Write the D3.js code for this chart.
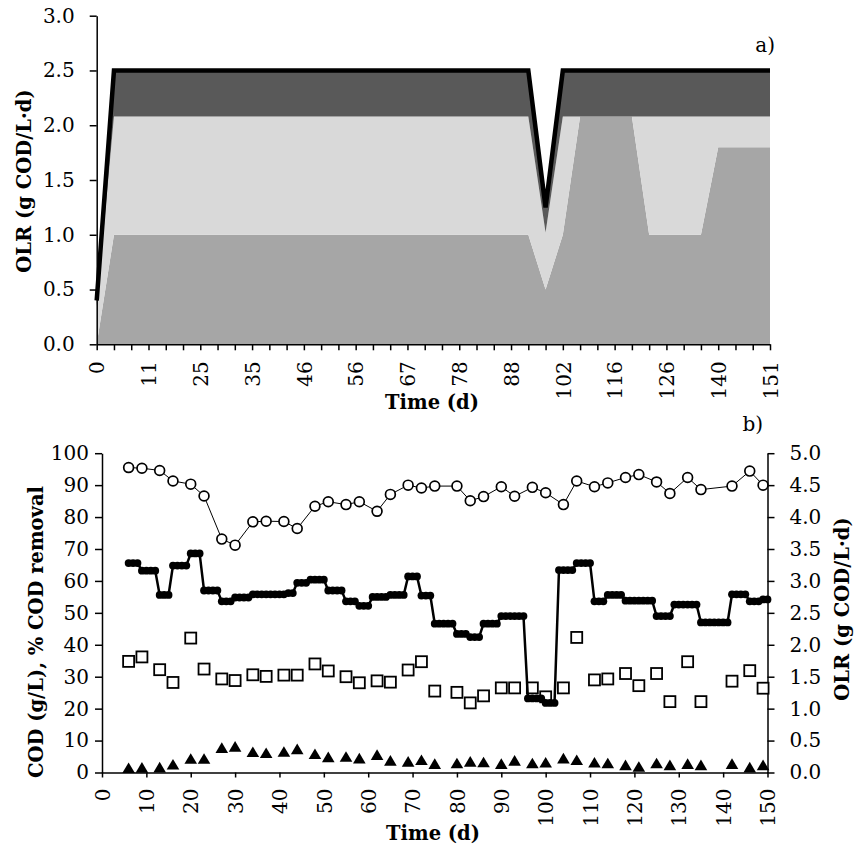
<!DOCTYPE html>
<html>
<head>
<meta charset="utf-8">
<script src="https://cdn.jsdelivr.net/npm/d3@7"></script>
<style>
body { margin: 0; background: #fff; }
svg { display: block; font-family: "DejaVu Serif", serif; }
.axis path, .axis line { stroke: #000; stroke-width: 1.5; }
.title { font-weight: bold; font-size: 19.5px; }
</style>
</head>
<body>
<div id="chart"></div>
<script>
// ---- panel a) : stacked OLR by category (40 sampling points) ----
let aTickLabels = ["0", "11", "25", "35", "46", "56", "67", "78", "88", "102", "116", "126", "140", "151"];
// bottom layer (mid grey)
let aLayer1 = [0,
	1.0, 1.0, 1.0, 1.0, 1.0, 1.0, 1.0, 1.0, 1.0, 1.0, 1.0, 1.0, 1.0, 1.0, 1.0, 1.0, 1.0, 1.0, 1.0, 1.0, 1.0, 1.0, 1.0, 1.0, 1.0,
	0.5, 1.0, 2.08, 2.08, 2.08, 2.08, 1.0, 1.0, 1.0, 1.0, 1.8, 1.8, 1.8, 1.8];
// middle layer (light grey)
let aLayer2 = [0.35,
	1.08, 1.08, 1.08, 1.08, 1.08, 1.08, 1.08, 1.08, 1.08, 1.08, 1.08, 1.08, 1.08, 1.08, 1.08, 1.08, 1.08, 1.08, 1.08, 1.08, 1.08, 1.08, 1.08, 1.08, 1.08,
	0.52, 1.08, 0, 0, 0, 0, 1.08, 1.08, 1.08, 1.08, 0.28, 0.28, 0.28, 0.28];
// top layer (dark grey)
let aLayer3 = [0.05,
	0.42, 0.42, 0.42, 0.42, 0.42, 0.42, 0.42, 0.42, 0.42, 0.42, 0.42, 0.42, 0.42, 0.42, 0.42, 0.42, 0.42, 0.42, 0.42, 0.42, 0.42, 0.42, 0.42, 0.42, 0.42,
	0.23, 0.42, 0.42, 0.42, 0.42, 0.42, 0.42, 0.42, 0.42, 0.42, 0.42, 0.42, 0.42, 0.42];
// total OLR (black line)
let aTotal = [0.4,
	2.5, 2.5, 2.5, 2.5, 2.5, 2.5, 2.5, 2.5, 2.5, 2.5, 2.5, 2.5, 2.5, 2.5, 2.5, 2.5, 2.5, 2.5, 2.5, 2.5, 2.5, 2.5, 2.5, 2.5, 2.5,
	1.25, 2.5, 2.5, 2.5, 2.5, 2.5, 2.5, 2.5, 2.5, 2.5, 2.5, 2.5, 2.5, 2.5];
let aColors = ["#a6a6a6", "#d9d9d9", "#595959"];

// ---- panel b) : sampling days ----
let bDays = [6, 9, 13, 16, 20, 23, 27, 30, 34, 37, 41, 44, 48, 51, 55, 58, 62, 65, 69, 72, 75,
	80, 83, 86, 90, 93, 97, 100, 104, 107, 111, 114, 118, 121, 125, 128, 132, 135, 142, 146, 149];
// % COD removal (open circles)
let bRemoval = [95.5, 95.3, 94.6, 91.3, 90.3, 86.6, 73.1, 71.2, 78.5, 78.7, 78.6, 76.4, 83.4, 84.8, 83.9, 84.8, 81.8, 87.1, 90.0, 89.1, 89.7,
	89.7, 85.1, 86.4, 89.5, 86.5, 89.3, 87.6, 83.9, 91.3, 89.5, 90.7, 92.4, 93.3, 91.0, 87.4, 92.4, 88.6, 89.7, 94.4, 90.0];
// COD g/L (open squares)
let bCodIn = [34.8, 36.2, 32.2, 28.2, 42.1, 32.4, 29.3, 28.8, 30.6, 30.1, 30.5, 30.5, 34.0, 31.8, 30.0, 28.1, 28.7, 28.3, 32.1, 34.7, 25.5,
	25.1, 21.8, 24.0, 26.5, 26.5, 26.5, 23.7, 26.5, 42.3, 29.0, 29.3, 31.0, 27.2, 31.0, 22.2, 34.7, 22.2, 28.6, 31.9, 26.4];
// COD g/L (filled triangles)
let bCodOut = [1.4, 1.5, 1.6, 2.5, 4.3, 4.3, 7.7, 8.1, 6.4, 6.1, 6.5, 7.3, 5.8, 4.8, 4.9, 4.4, 5.5, 3.7, 3.4, 3.9, 2.7,
	2.9, 3.4, 3.2, 2.7, 3.7, 2.9, 3.1, 4.4, 3.9, 3.1, 2.9, 2.3, 1.8, 2.9, 2.3, 2.7, 2.3, 2.7, 1.6, 2.3];
// daily OLR, g COD/L·d (filled circles, right axis), day 6 to day 150
let olrFirstDay = 6;
let olrDaily = [
	3.28, 3.28, 3.28,                   // 6-8
	3.16, 3.16, 3.16, 3.16,             // 9-12
	2.78, 2.78, 2.78,                   // 13-15
	3.24, 3.24, 3.24, 3.24,             // 16-19
	3.43, 3.43, 3.43,                   // 20-22
	2.85, 2.85, 2.85, 2.85,             // 23-26
	2.68, 2.68, 2.68,                   // 27-29
	2.74, 2.74, 2.74, 2.74,             // 30-33
	2.79, 2.79, 2.79, 2.79, 2.79, 2.79, 2.79, 2.79, // 34-41
	2.81, 2.81,                         // 42-43
	2.97, 2.97, 2.97,                   // 44-46
	3.02, 3.02, 3.02, 3.02,             // 47-50
	2.85, 2.85, 2.85, 2.85,             // 51-54
	2.68, 2.68, 2.68,                   // 55-57
	2.61, 2.61, 2.61,                   // 58-60
	2.75, 2.75, 2.75, 2.75,             // 61-64
	2.78, 2.78, 2.78, 2.78,             // 65-68
	3.07, 3.07, 3.07,                   // 69-71
	2.77, 2.77, 2.77,                   // 72-74
	2.33, 2.33, 2.33, 2.33, 2.33,       // 75-79
	2.17, 2.17, 2.17,                   // 80-82
	2.12, 2.12, 2.12,                   // 83-85
	2.33, 2.33, 2.33, 2.33,             // 86-89
	2.45, 2.45, 2.45, 2.45, 2.45, 2.45, // 90-95
	1.16, 1.16, 1.16, 1.16,             // 96-99
	1.09, 1.09, 1.09,                   // 100-102
	3.17, 3.17, 3.17, 3.17,             // 103-106
	3.28, 3.28, 3.28, 3.28,             // 107-110
	2.68, 2.68, 2.68,                   // 111-113
	2.78, 2.78, 2.78, 2.78,             // 114-117
	2.69, 2.69, 2.69, 2.69, 2.69, 2.69, 2.69, // 118-124
	2.45, 2.45, 2.45, 2.45,             // 125-128
	2.63, 2.63, 2.63, 2.63, 2.63, 2.63, // 129-134
	2.35, 2.35, 2.35, 2.35, 2.35, 2.35, 2.35, // 135-141
	2.79, 2.79, 2.79, 2.79,             // 142-145
	2.68, 2.68, 2.68,                   // 146-148
	2.71, 2.71                          // 149-150
];

let svg = d3.select("#chart").append("svg")
	.attr("width", 857)
	.attr("height", 849);

// make axis labels the same serif as the rest
function styleTicks(g){
	g.selectAll("text")
		.attr("font-family", "DejaVu Serif")
		.style("font-size", "20px")
		.style("fill", "#000");
}

// ================= panel a =================
let aIdx = d3.range(aTotal.length);
let xa = d3.scalePoint().domain(aIdx).range([96.7, 770]);
let ya = d3.scaleLinear().domain([0, 3]).range([344.3, 15.7]);

let stackRows = aIdx.map(function(i){ return {i: i, l1: aLayer1[i], l2: aLayer2[i], l3: aLayer3[i]}; });
let stacked = d3.stack().keys(["l1", "l2", "l3"])(stackRows);

let areaA = d3.area()
	.x(function(d){ return xa(d.data.i); })
	.y0(function(d){ return ya(d[0]); })
	.y1(function(d){ return ya(d[1]); });

let gA = svg.append("g");
gA.selectAll("path.layer")
	.data(stacked)
	.enter().append("path")
	.attr("class", "layer")
	.attr("d", areaA)
	.style("fill", function(d, i){ return aColors[i]; });

gA.append("path")
	.datum(aIdx)
	.attr("d", d3.line().x(function(i){ return xa(i); }).y(function(i){ return ya(aTotal[i]); }))
	.style("fill", "none")
	.style("stroke", "#000")
	.style("stroke-width", 4.5)
	.style("stroke-linejoin", "miter");

// axes a
let axA = gA.append("g").attr("class", "axis")
	.attr("transform", "translate(0," + ya(0) + ")")
	.call(d3.axisBottom(xa).tickSize(6).tickSizeOuter(0)
		.tickFormat(function(i){ return i % 3 == 0 ? aTickLabels[i / 3] : ""; }));
axA.call(styleTicks);
axA.selectAll("text")
	.attr("transform", "rotate(-90)")
	.attr("x", -17)
	.attr("y", 0)
	.attr("dy", "0.36em")
	.style("text-anchor", "end");

gA.append("g").attr("class", "axis")
	.attr("transform", "translate(" + xa(0) + ",0)")
	.call(d3.axisLeft(ya).tickValues(d3.range(0, 3.01, 0.5)).tickSize(7).tickPadding(15).tickSizeOuter(0)
		.tickFormat(d3.format(".1f")))
	.call(styleTicks);

gA.append("text").attr("class", "title")
	.attr("transform", "translate(31,181) rotate(-90)")
	.attr("text-anchor", "middle")
	.text("OLR (g COD/L·d)");
gA.append("text").attr("class", "title")
	.attr("x", 432).attr("y", 409)
	.attr("text-anchor", "middle")
	.text("Time (d)");
gA.append("text")
	.attr("x", 775).attr("y", 52)
	.attr("text-anchor", "end")
	.style("font-size", "20px")
	.text("a)");

// ================= panel b =================
let xb = d3.scaleLinear().domain([0, 150]).range([102, 767.5]);
let yb = d3.scaleLinear().domain([0, 100]).range([772.5, 453.2]);
let yr = d3.scaleLinear().domain([0, 5]).range([772.5, 453.2]);

let gB = svg.append("g");

let axB = gB.append("g").attr("class", "axis")
	.attr("transform", "translate(0," + yb(0) + ")")
	.call(d3.axisBottom(xb).tickValues(d3.range(0, 151, 10)).tickSize(5).tickSizeOuter(0))
	.call(styleTicks);
axB.selectAll("text")
	.attr("transform", "rotate(-90)")
	.attr("x", -16)
	.attr("y", 0)
	.attr("dy", "0.36em")
	.style("text-anchor", "end");

gB.append("g").attr("class", "axis")
	.attr("transform", "translate(" + xb(0) + ",0)")
	.call(d3.axisLeft(yb).tickValues(d3.range(0, 101, 10)).tickSize(7).tickPadding(6).tickSizeOuter(0))
	.call(styleTicks);

gB.append("g").attr("class", "axis")
	.attr("transform", "translate(" + xb(150) + ",0)")
	.call(d3.axisRight(yr).tickValues(d3.range(0, 5.01, 0.5)).tickSize(7).tickPadding(15).tickSizeOuter(0)
		.tickFormat(d3.format(".1f")))
	.call(styleTicks);

let bIdx = d3.range(bDays.length);

// squares
gB.selectAll("rect.cod")
	.data(bIdx)
	.enter().append("rect")
	.attr("class", "cod")
	.attr("x", function(i){ return xb(bDays[i]) - 5.5; })
	.attr("y", function(i){ return yb(bCodIn[i]) - 5.5; })
	.attr("width", 11).attr("height", 11)
	.style("fill", "#fff")
	.style("stroke", "#000")
	.style("stroke-width", 1.8);

// triangles
gB.selectAll("path.eff")
	.data(bIdx)
	.enter().append("path")
	.attr("class", "eff")
	.attr("transform", function(i){ return "translate(" + xb(bDays[i]) + "," + yb(bCodOut[i]) + ")"; })
	.attr("d", "M0,-5.6L6.3,5L-6.3,5Z")
	.style("fill", "#000");

// removal line + open circles
gB.append("path")
	.datum(bIdx)
	.attr("d", d3.line().x(function(i){ return xb(bDays[i]); }).y(function(i){ return yb(bRemoval[i]); }))
	.style("fill", "none").style("stroke", "#000").style("stroke-width", 1);
gB.selectAll("circle.rem")
	.data(bIdx)
	.enter().append("circle")
	.attr("class", "rem")
	.attr("cx", function(i){ return xb(bDays[i]); })
	.attr("cy", function(i){ return yb(bRemoval[i]); })
	.attr("r", 4.9)
	.style("fill", "#fff").style("stroke", "#000").style("stroke-width", 1.7);

// OLR daily on right axis
let olrIdx = d3.range(olrDaily.length);
gB.append("path")
	.datum(olrIdx)
	.attr("d", d3.line().x(function(i){ return xb(olrFirstDay + i); }).y(function(i){ return yr(olrDaily[i]); }))
	.style("fill", "none").style("stroke", "#000").style("stroke-width", 2.5);
gB.selectAll("circle.olr")
	.data(olrIdx)
	.enter().append("circle")
	.attr("class", "olr")
	.attr("cx", function(i){ return xb(olrFirstDay + i); })
	.attr("cy", function(i){ return yr(olrDaily[i]); })
	.attr("r", 3.9)
	.style("fill", "#000");

gB.append("text").attr("class", "title")
	.attr("transform", "translate(43,632) rotate(-90)")
	.attr("text-anchor", "middle")
	.text("COD (g/L), % COD removal");
gB.append("text").attr("class", "title")
	.attr("transform", "translate(849,609) rotate(-90)")
	.attr("text-anchor", "middle")
	.text("OLR (g COD/L·d)");
gB.append("text").attr("class", "title")
	.attr("x", 433).attr("y", 840)
	.attr("text-anchor", "middle")
	.text("Time (d)");
gB.append("text")
	.attr("x", 763).attr("y", 431)
	.attr("text-anchor", "end")
	.style("font-size", "20px")
	.text("b)");
</script>
</body>
</html>
